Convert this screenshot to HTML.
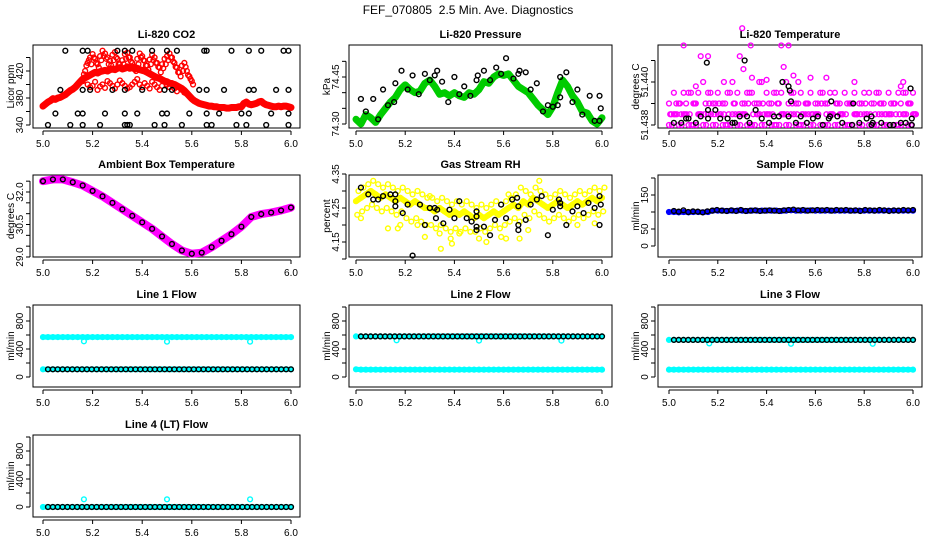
<!DOCTYPE html>
<html><head><meta charset="utf-8">
<style>
html,body{margin:0;padding:0;background:#fff;}
svg text{font-family:"Liberation Sans",sans-serif;fill:#000;}
</style></head>
<body>
<svg id="chart" width="936" height="540" viewBox="0 0 936 540" xmlns="http://www.w3.org/2000/svg">
<rect width="936" height="540" fill="#fff"/>
<text x="468" y="14" text-anchor="middle" font-size="12">FEF_070805&#160;&#160;2.5 Min. Ave. Diagnostics</text>
</svg>
<script>
// ---------- data ----------
const xTicks=[5.0,5.2,5.4,5.6,5.8,6.0];
const xTickLabels=["5.0","5.2","5.4","5.6","5.8","6.0"];

const co2Red=[368,371,374,376,379,378,380,381,383,385,388,391,393,396,400,404,408,410,412,414,416,418,417,419,420,421,420,422,423,422,424,425,423,424,426,424,425,423,424,422,421,420,418,416,414,412,410,409,407,405,404,402,401,400,398,396,394,391,387,383,379,376,374,372,371,370,369,368,368,367,367,366,366,366,365,365,366,366,366,367,367,372,374,371,370,371,372,374,375,372,370,369,368,367,367,368,367,368,368,367,366];
const co2UpStart=5.16;
const co2Up=[405,420,432,440,445,438,430,442,450,446,440,435,444,448,438,430,436,445,447,440,432,426,438,446,442,435,428,437,444,440,432,425,430,438,442,446,440,432,425,418,428,432,420,412,405];
const co2Up2Start=5.165;
const co2Up2=[415,428,436,430,440,432,425,436,442,438,430,428,436,440,430,424,430,438,440,434,426,420,430,440,436,428,422,430,436,432,426,418,424,430,436,440,434,426,418,412,420,426,414,408,400];
const co2LowStart=5.18;
const co2Low=[400,396,398,404,392,397,400,395,405,402,398,394,400,406,402,398,394,396,400,404,408,400,396,402,398,394,404,400,396,392,398,404,400,396,402,394,390,396,392,388,386];
const co2BlackX=[5.09,5.16,5.18,5.3,5.33,5.36,5.44,5.5,5.54,5.65,5.66,5.76,5.83,5.88,5.97,5.99, 5.07,5.16,5.19,5.28,5.33,5.4,5.49,5.52,5.63,5.66,5.73,5.83,5.85,5.94,5.99, 5.05,5.14,5.16,5.25,5.33,5.38,5.48,5.5,5.59,5.66,5.71,5.8,5.83,5.92,5.99, 5.02,5.11,5.16,5.23,5.33,5.34,5.35,5.45,5.49,5.56,5.66,5.68,5.78,5.82,5.9,5.99];
const co2BlackY=[450,450,450,450,450,450,450,450,450,450,450,450,450,450,450,450, 392,392,392,392,392,392,392,392,392,392,392,392,392,392,392, 357,357,357,357,357,357,357,357,357,357,357,357,357,357,357, 340,340,340,340,340,340,340,340,340,340,340,340,340,340,340,340];

const presGreen=[74.315,74.30,74.33,74.32,74.305,74.33,74.35,74.37,74.385,74.41,74.425,74.41,74.40,74.405,74.43,74.44,74.42,74.395,74.40,74.39,74.40,74.39,74.385,74.40,74.395,74.41,74.435,74.43,74.45,74.46,74.455,74.46,74.44,74.42,74.41,74.40,74.38,74.36,74.345,74.33,74.355,74.40,74.44,74.42,74.39,74.37,74.34,74.335,74.31,74.30,74.32];
const presBlackX=[5.02,5.04,5.07,5.09,5.11,5.13,5.155,5.16,5.185,5.21,5.23,5.255,5.28,5.30,5.32,5.33,5.35,5.375,5.40,5.42,5.44,5.465,5.49,5.495,5.52,5.545,5.57,5.59,5.61,5.64,5.66,5.665,5.69,5.71,5.735,5.76,5.78,5.80,5.82,5.83,5.83,5.855,5.88,5.90,5.92,5.95,5.97,5.99,5.995,5.99];
const presBlackY=[74.38,74.34,74.38,74.315,74.41,74.36,74.37,74.43,74.47,74.41,74.455,74.395,74.46,74.44,74.455,74.47,74.435,74.37,74.45,74.395,74.42,74.39,74.44,74.455,74.47,74.44,74.48,74.46,74.51,74.445,74.46,74.47,74.465,74.41,74.43,74.34,74.36,74.355,74.36,74.45,74.385,74.465,74.37,74.41,74.33,74.39,74.31,74.39,74.35,74.31];

const tempMagA=[51.4385,51.439,51.4385,51.439,51.4395,51.439,51.4385,51.439,51.4395,51.439,51.4385,51.439,51.4395,51.439,51.4385,51.439,51.4395,51.439,51.439,51.4385,51.439,51.4395,51.439,51.4385,51.439,51.4395,51.439,51.4385,51.439,51.4385,51.439,51.4395,51.439,51.4385,51.439,51.4385,51.439,51.439,51.4385,51.439,51.4385,51.439,51.4395,51.439,51.4385,51.439,51.4385,51.439,51.4395,51.439,51.4385];
const tempMagB=[51.438,51.4385,51.438,51.4385,51.438,51.438,51.4385,51.438,51.4385,51.438,51.4385,51.438,51.438,51.4385,51.438,51.4385,51.438,51.438,51.4385,51.438,51.4385,51.438,51.438,51.4385,51.438,51.4385,51.438,51.438,51.4385,51.438,51.4385,51.438,51.438,51.4385,51.438,51.4385,51.438,51.438,51.4385,51.438,51.4385,51.438,51.438,51.4385,51.438,51.4385,51.438,51.438,51.4385,51.438,51.4385];
const tempMagC=[51.439,51.4395,51.439,51.4395,51.4395,51.439,51.4395,51.44,51.4395,51.439,51.4395,51.439,51.4395,51.44,51.4395,51.439,51.4395,51.4395,51.439,51.44,51.4395,51.439,51.4395,51.4395,51.44,51.4395,51.439,51.4395,51.439,51.4395,51.439,51.4395,51.439,51.4395,51.4395,51.439,51.4395,51.439,51.4395,51.439,51.4395,51.4395,51.439,51.4395,51.439,51.4395,51.439,51.4395,51.4395,51.439,51.4395];
const tempMagD=[51.4385,51.4385,51.439,51.4385,51.4385,51.439,51.4385,51.4385,51.439,51.4385,51.439,51.4385,51.4385,51.439,51.4385,51.4385,51.439,51.4385,51.4385,51.439,51.4385,51.4385,51.439,51.4385,51.4385,51.439,51.4385,51.4385,51.439,51.4385,51.4385,51.439,51.4385,51.4385,51.439,51.4385,51.4385,51.439,51.4385,51.4385,51.439,51.4385,51.4385,51.439,51.4385,51.4385,51.439,51.4385,51.4385,51.439,51.4385];
const tempOutX=[5.06,5.13,5.16,5.29,5.30,5.305,5.335,5.34,5.46,5.47,5.49,5.51,5.58,5.645,5.76,5.96,5.225,5.11,5.37,5.53,5.40,5.95];
const tempOutY=[51.4417,51.4412,51.4412,51.4412,51.4425,51.4406,51.4417,51.4402,51.4417,51.4407,51.4417,51.4403,51.4402,51.4402,51.44,51.44,51.44,51.4398,51.44,51.44,51.4401,51.4398];
const tempBlackX=[5.02,5.05,5.08,5.07,5.11,5.13,5.155,5.16,5.16,5.19,5.21,5.24,5.26,5.27,5.29,5.31,5.32,5.33,5.355,5.38,5.41,5.43,5.45,5.465,5.49,5.495,5.50,5.49,5.52,5.54,5.565,5.59,5.61,5.63,5.655,5.665,5.66,5.69,5.71,5.75,5.755,5.78,5.81,5.83,5.835,5.83,5.87,5.92,5.905,5.95,5.97,5.99,5.995,5.995];
const tempBlackY=[51.4381,51.4381,51.4383,51.4383,51.4381,51.4384,51.4409,51.4387,51.4383,51.4387,51.4383,51.4383,51.4381,51.4381,51.4384,51.441,51.4384,51.4381,51.4387,51.4383,51.4381,51.4384,51.4384,51.44,51.4398,51.4396,51.4391,51.4384,51.4381,51.4384,51.4381,51.4383,51.4384,51.438,51.4383,51.4391,51.4384,51.4384,51.4381,51.438,51.439,51.4381,51.4383,51.4384,51.4381,51.438,51.4381,51.438,51.438,51.4381,51.4381,51.4397,51.4383,51.438];

const ambTemp=[32.50,32.58,32.58,32.45,32.3,32.05,31.8,31.5,31.2,30.9,30.6,30.3,29.95,29.6,29.3,29.15,29.2,29.45,29.75,30.05,30.4,30.85,30.98,31.05,31.15,31.28];

const rhCenter=[4.27,4.28,4.29,4.30,4.29,4.28,4.29,4.28,4.27,4.28,4.27,4.26,4.27,4.26,4.25,4.25,4.24,4.25,4.24,4.23,4.24,4.23,4.24,4.23,4.22,4.23,4.22,4.23,4.24,4.23,4.24,4.25,4.26,4.25,4.27,4.26,4.28,4.27,4.26,4.25,4.26,4.27,4.26,4.25,4.26,4.27,4.26,4.27,4.28,4.27,4.28];
const rhUpper=[4.30,4.31,4.32,4.33,4.32,4.31,4.32,4.31,4.30,4.31,4.30,4.29,4.30,4.29,4.28,4.28,4.27,4.28,4.27,4.26,4.27,4.26,4.27,4.26,4.25,4.26,4.25,4.26,4.27,4.26,4.27,4.28,4.29,4.31,4.30,4.29,4.31,4.30,4.29,4.28,4.29,4.30,4.29,4.28,4.29,4.30,4.29,4.30,4.31,4.30,4.31];
const rhLower=[4.23,4.24,4.25,4.26,4.25,4.24,4.25,4.24,4.23,4.24,4.22,4.21,4.22,4.21,4.20,4.20,4.19,4.20,4.19,4.18,4.19,4.18,4.19,4.18,4.18,4.19,4.18,4.19,4.20,4.19,4.20,4.21,4.22,4.21,4.23,4.22,4.24,4.23,4.22,4.21,4.22,4.23,4.22,4.21,4.22,4.23,4.22,4.23,4.24,4.23,4.24];
const rhOutX=[5.02,5.13,5.17,5.18,5.25,5.28,5.34,5.345,5.385,5.39,5.42,5.50,5.53,5.59,5.61,5.665,5.70,5.745,5.97,5.90,5.30,5.62];
const rhOutY=[4.22,4.19,4.19,4.20,4.20,4.165,4.175,4.13,4.16,4.145,4.175,4.16,4.15,4.165,4.16,4.16,4.185,4.33,4.205,4.20,4.285,4.29];
const rhBlackX=[5.02,5.05,5.07,5.09,5.11,5.14,5.16,5.16,5.16,5.19,5.21,5.23,5.26,5.28,5.30,5.32,5.325,5.33,5.355,5.38,5.40,5.42,5.45,5.47,5.49,5.49,5.49,5.49,5.52,5.545,5.565,5.59,5.61,5.635,5.655,5.66,5.66,5.66,5.69,5.71,5.735,5.755,5.78,5.80,5.825,5.83,5.83,5.855,5.88,5.90,5.925,5.945,5.97,5.99,5.995,5.99];
const rhBlackY=[4.31,4.29,4.275,4.275,4.285,4.29,4.29,4.27,4.255,4.235,4.26,4.11,4.26,4.2,4.25,4.25,4.22,4.245,4.205,4.245,4.22,4.27,4.22,4.21,4.24,4.225,4.195,4.185,4.195,4.17,4.215,4.26,4.22,4.275,4.28,4.255,4.2,4.185,4.215,4.26,4.275,4.285,4.17,4.245,4.275,4.265,4.255,4.2,4.24,4.255,4.235,4.265,4.25,4.285,4.26,4.2];

const sampleBlue=[100,100,99,100,99,100,100,99,100,104,104,104,103,104,104,104,103,104,104,104,104,104,104,103,104,105,104,104,104,105,104,104,104,104,104,104,104,104,104,104,104,104,104,104,104,104,104,104,104,104,104];
const sampleBlack=[103,101,105,100,102,101,99,102,104,106,104,103,105,103,106,103,104,105,103,104,105,104,103,105,106,107,105,106,104,105,106,105,106,104,106,105,106,104,105,103,106,105,104,106,105,103,105,104,106,105,106];

const line1Cyan=[570,570,570,570,570,570,570,570,570,570,570,570,570,570,570,570,570,570,570,570,570,570,570,570,570,570,570,570,570,570,570,570,570,570,570,570,570,570,570,570,570,570,570,570,570,570,570,570,570,570,570];
const line1Black=[110,110,110,110,110,110,110,110,110,110,110,110,110,110,110,110,110,110,110,110,110,110,110,110,110,110,110,110,110,110,110,110,110,110,110,110,110,110,110,110,110,110,110,110,110,110,110,110,110,110,110];
const line2Cyan=[110,105,105,105,105,105,105,105,105,105,105,105,105,105,105,105,105,105,105,105,105,105,105,105,105,105,105,105,105,105,105,105,105,105,105,105,105,105,105,105,105,105,105,105,105,105,105,105,105,105,105];
const line2Black=[580,580,580,580,580,580,580,580,580,580,580,580,580,580,580,580,580,580,580,580,580,580,580,580,580,580,580,580,580,580,580,580,580,580,580,580,580,580,580,580,580,580,580,580,580,580,580,580,580,580,580];
const line3Cyan=[105,105,105,105,105,105,105,105,105,105,105,105,105,105,105,105,105,105,105,105,105,105,105,105,105,105,105,105,105,105,105,105,105,105,105,105,105,105,105,105,105,105,105,105,105,105,105,105,105,105,105];
const line3Black=[530,530,530,530,530,530,530,530,530,530,530,530,530,530,530,530,530,530,530,530,530,530,530,530,530,530,530,530,530,530,530,530,530,530,530,530,530,530,530,530,530,530,530,530,530,530,530,530,530,530,530];
const line4Cyan=[0,0,0,0,0,0,0,0,0,0,0,0,0,0,0,0,0,0,0,0,0,0,0,0,0,0,0,0,0,0,0,0,0,0,0,0,0,0,0,0,0,0,0,0,0,0,0,0,0,0,0];
const line4Black=[0,0,0,0,0,0,0,0,0,0,0,0,0,0,0,0,0,0,0,0,0,0,0,0,0,0,0,0,0,0,0,0,0,0,0,0,0,0,0,0,0,0,0,0,0,0,0,0,0,0,0];
const dipX=[5.165,5.5,5.835];
const line1Dip=[510,505,505];
const line2Dip=[525,520,520];
const line3Dip=[480,475,475];
const line4Dip=[110,110,110];

// ---------- drawing ----------
const svg=document.getElementById('chart');
const NS='http://www.w3.org/2000/svg';
const COLS=[{l:33,r:300,x5:43,x6:291},{l:349,r:612,x5:356,x6:602},{l:658,r:922,x5:669,x6:913}];
const ROWTOP=[45,175,305,435],ROWBOT=[128,257,387,517];

function mk(tag,attrs,parent){const e=document.createElementNS(NS,tag);for(const k in attrs)e.setAttribute(k,attrs[k]);(parent||svg).appendChild(e);return e;}

function panel(col,row,name,title,ylab,v0,p0,v1,p1,ticks,labels){
  const c=COLS[col];
  const g=mk('g',{});
  
  
  const P={g:g,c:c,sx:v=>c.x5+(v-5)*(c.x6-c.x5),sy:v=>p0+(v-v0)*(p1-p0)/(v1-v0)};
  const top=ROWTOP[row],bot=ROWBOT[row];
  const box=mk('rect',{x:c.l,y:top,width:c.r-c.l,height:bot-top,fill:'none',stroke:'#000','stroke-width':1},g);
  
  
  const t=mk('text',{x:(c.l+c.r)/2,y:top-7,'text-anchor':'middle','font-size':11,'font-weight':'bold'},g);
  t.textContent=title;
  
  
  const xa=mk('g',{},g);
  
  
  mk('line',{x1:P.sx(xTicks[0]),x2:P.sx(xTicks[xTicks.length-1]),y1:bot+3,y2:bot+3,stroke:'#000'},xa);
  xTicks.forEach((v,i)=>{
    const x=P.sx(v);
    mk('line',{x1:x,x2:x,y1:bot+3,y2:bot+7,stroke:'#000'},xa);
    const tl=mk('text',{x:x,y:bot+19,'text-anchor':'middle','font-size':10},xa);
    tl.textContent=xTickLabels[i];
  });
  const ya=mk('g',{},g);
  
  
  const ax=c.l-3;
  mk('line',{x1:ax,x2:ax,y1:P.sy(ticks[0]),y2:P.sy(ticks[ticks.length-1]),stroke:'#000'},ya);
  ticks.forEach((v,i)=>{
    const y=P.sy(v);
    mk('line',{x1:ax-4,x2:ax,y1:y,y2:y,stroke:'#000'},ya);
    if(labels[i]){
      const tl=mk('text',{x:ax-7,y:y,'text-anchor':'middle','font-size':10,transform:`rotate(-90 ${ax-7} ${y})`},ya);
      tl.textContent=labels[i];
    }
  });
  const yt=mk('text',{x:c.l-19,y:(top+bot)/2,'text-anchor':'middle','font-size':10,transform:`rotate(-90 ${c.l-19} ${(top+bot)/2})`},g);
  yt.textContent=ylab;
  
  
  return P;
}
function pts(P,xs,ys,color,name){
  const g=mk('g',{},P.g);
  
  
  ys.forEach((v,i)=>{mk('circle',{cx:P.sx(xs[i]),cy:P.sy(v),r:2.4,fill:'none',stroke:color,'stroke-width':1.4},g);});
}
function uniform(P,ys,color,name,x0,step,lw){
  x0=x0===undefined?5:x0;step=step===undefined?1/(ys.length-1):step;
  const xs=ys.map((v,i)=>x0+i*step);
  if(lw){
    const pl=mk('polyline',{points:xs.map((x,i)=>P.sx(x)+','+P.sy(ys[i])).join(' '),fill:'none',stroke:color,'stroke-width':lw,'stroke-linejoin':'round','stroke-linecap':'round'},P.g);
    
    
  }
  pts(P,xs,ys,color,name);
}

// Row 0
let P=panel(0,0,'co2','Li-820 CO2','Licor ppm',340,125,420,71,[340,360,380,400,420,440],['340','','380','','420','']);
uniform(P,co2Red,'#ff0000','co2-red-series',5,0.01,7);
uniform(P,co2Up,'#ff0000','co2-red-upper',co2UpStart,0.01);
uniform(P,co2Up2,'#ff0000','co2-red-upper-2',co2Up2Start,0.01);
uniform(P,co2Low,'#ff0000','co2-red-lower',co2LowStart,0.01);
pts(P,co2BlackX,co2BlackY,'#000','co2-black-series');

P=panel(1,0,'pressure','Li-820 Pressure','kPa',74.30,124,74.45,77,[74.30,74.35,74.40,74.45,74.50],['74.30','','','74.45','']);
uniform(P,presGreen,'#00cc00','pressure-green-series',5,0.02,7);
pts(P,presBlackX,presBlackY,'#000','pressure-black-series');

P=panel(2,0,'li820-temp','Li-820 Temperature','degrees C',51.438,125,51.440,82,[51.438,51.439,51.440,51.441],['51.438','','51.440','']);
uniform(P,tempMagB,'#ff00ff','temp-magenta-low',5,0.02);
uniform(P,tempMagA,'#ff00ff','temp-magenta-mid',5.01,0.02);
uniform(P,tempMagD,'#ff00ff','temp-magenta-mid-2',5.005,0.02);
uniform(P,tempMagC,'#ff00ff','temp-magenta-high',5,0.02);
uniform(P,tempMagB,'#ff00ff','temp-magenta-low-2',5.012,0.02);
pts(P,tempOutX,tempOutY,'#ff00ff','temp-magenta-outliers');
pts(P,tempBlackX,tempBlackY,'#000','temp-black-series');

// Row 1
P=panel(0,1,'ambient','Ambient Box Temperature','degrees C',29.0,257,32.0,192,[29.0,29.5,30.0,30.5,31.0,31.5,32.0,32.5],['29.0','','','30.5','','','32.0','']);
uniform(P,ambTemp,'#ff00ff','ambient-magenta-series',5,0.04,8);
uniform(P,ambTemp,'#000','ambient-black-series',5,0.04);

P=panel(1,1,'gas-rh','Gas Stream RH','percent',4.15,242,4.35,174,[4.10,4.15,4.20,4.25,4.30,4.35],['','4.15','','4.25','','4.35']);
uniform(P,rhCenter,'#ffff00','rh-yellow-center',5,0.02,6);
uniform(P,rhUpper,'#ffff00','rh-yellow-upper',5.01,0.02);
uniform(P,rhLower,'#ffff00','rh-yellow-lower',5.005,0.02);
pts(P,rhOutX,rhOutY,'#ffff00','rh-yellow-outliers');
pts(P,rhBlackX,rhBlackY,'#000','rh-black-series');

P=panel(2,1,'sample-flow','Sample Flow','ml/min',0,246,150,195,[0,50,100,150,200],['0','50','','150','']);
uniform(P,sampleBlue,'#0000ff','sample-blue-series',5,0.02,5);
uniform(P,sampleBlack,'#000','sample-black-series',5.02,0.0196);

// Rows 2-3 flows
const fT=[0,200,400,600,800,1000],fL=['0','','400','','800',''];
P=panel(0,2,'line1','Line 1 Flow','ml/min',0,377,800,321,fT,fL);
uniform(P,line1Cyan,'#00ffff','line1-cyan-series',5,0.02,5);
uniform(P,line1Black,'#00ffff','line1-cyan-base',5,0.02,5);
pts(P,dipX,line1Dip,'#00ffff','line1-cyan-dips');
uniform(P,line1Black,'#000','line1-black-series',5.02,0.0196);

P=panel(1,2,'line2','Line 2 Flow','ml/min',0,377,800,321,fT,fL);
uniform(P,line2Cyan,'#00ffff','line2-cyan-series',5,0.02,5);
uniform(P,line2Black,'#00ffff','line2-cyan-high',5,0.02,4);
pts(P,dipX,line2Dip,'#00ffff','line2-cyan-dips');
uniform(P,line2Black,'#000','line2-black-series',5.02,0.0196);

P=panel(2,2,'line3','Line 3 Flow','ml/min',0,377,800,321,fT,fL);
uniform(P,line3Cyan,'#00ffff','line3-cyan-series',5,0.02,5);
uniform(P,line3Black,'#00ffff','line3-cyan-high',5,0.02,4);
pts(P,dipX,line3Dip,'#00ffff','line3-cyan-dips');
uniform(P,line3Black,'#000','line3-black-series',5.02,0.0196);

P=panel(0,3,'line4','Line 4 (LT) Flow','ml/min',0,507,800,451,fT,fL);
uniform(P,line4Cyan,'#00ffff','line4-cyan-series',5,0.02,5);
pts(P,dipX,line4Dip,'#00ffff','line4-cyan-dips');
uniform(P,line4Black,'#000','line4-black-series',5.02,0.0196);
</script>
</body></html>
